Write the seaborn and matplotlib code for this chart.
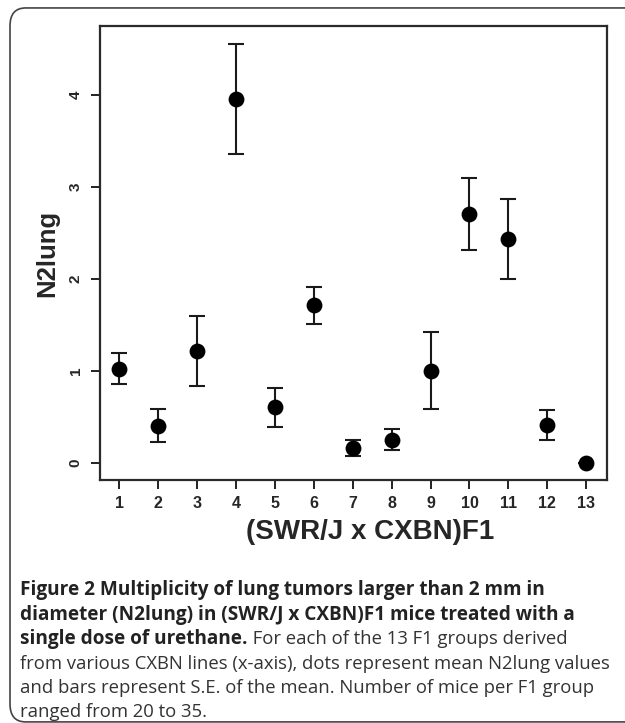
import numpy as np
import pandas as pd
import matplotlib
matplotlib.use("Agg")
import matplotlib.pyplot as plt
import seaborn as sns
from matplotlib.patches import FancyBboxPatch

# ---- data ------------------------------------------------------------------
groups = [1, 2, 3, 4, 5, 6, 7, 8, 9, 10, 11, 12, 13]
mean_n2lung = [1.02, 0.40, 1.21, 3.95, 0.60, 1.71, 0.16, 0.25, 1.00, 2.70, 2.43, 0.41, 0.00]
se_n2lung = [0.17, 0.18, 0.38, 0.60, 0.21, 0.20, 0.09, 0.11, 0.42, 0.39, 0.43, 0.16, 0.00]
y_ticks = [0, 1, 2, 3, 4]

data = pd.DataFrame({"group": groups, "N2lung": mean_n2lung, "se": se_n2lung})

sns.set_style("ticks")
plt.rcParams["font.family"] = ["Liberation Sans", "DejaVu Sans"]

fig = plt.figure(figsize=(6.25, 7.23), dpi=100)
ax = fig.add_axes([0.16, 0.336, 0.811, 0.628])

# error bars (S.E.) then the mean dots
ax.errorbar(data["group"], data["N2lung"], yerr=data["se"], fmt="none",
            ecolor="#1a1a1a", elinewidth=1.5, capsize=5.5, capthick=1.5, zorder=2)
sns.scatterplot(data=data, x="group", y="N2lung", ax=ax, s=130, color="black",
                edgecolor="black", linewidth=0, zorder=3, legend=False)

ax.set_xlim(0.51, 13.53)
ax.set_ylim(-0.19, 4.745)
ax.set_xticks(groups)
ax.set_yticks(y_ticks)
ax.set_xticklabels([str(g) for g in groups], fontweight="bold", fontsize=11.5)
ax.set_yticklabels([str(t) for t in y_ticks], fontweight="bold", fontsize=11,
                   rotation=90, va="center")
ax.tick_params(left=True, bottom=True, direction="out", length=6.5, width=1.4,
               color="#222222")
ax.tick_params(axis="x", pad=5)
ax.tick_params(axis="y", pad=6)

for side in ["left", "right", "top", "bottom"]:
    ax.spines[side].set_visible(True)
    ax.spines[side].set_linewidth(1.6)
    ax.spines[side].set_color("#2a2a2a")

ax.set_xlabel("(SWR/J x CXBN)F1", fontsize=20, fontweight="bold")
ax.xaxis.set_label_coords(0.533, -0.085)
ax.set_ylabel("N2lung", fontsize=18.5, fontweight="bold", labelpad=6.5)

# rounded frame round the whole figure (runs off the right edge)
frame = FancyBboxPatch((0.016, 0.0015), 1.1, 0.9875, transform=fig.transFigure,
                       boxstyle="round,pad=0,rounding_size=0.025",
                       facecolor="none", edgecolor="#444444", linewidth=1.2)
fig.patches.append(frame)

# caption
cap_font = ["Open Sans", "DejaVu Sans"]
bold_size = 13.7
reg_size = 13.35
x0 = 0.032
lines_y = [0.177, 0.1425, 0.1093, 0.0747, 0.0415, 0.0083]
fig.text(x0, lines_y[0], "Figure 2 Multiplicity of lung tumors larger than 2 mm in",
         family=cap_font, fontsize=bold_size, fontweight="bold", color="#222222")
fig.text(x0, lines_y[1], "diameter (N2lung) in (SWR/J x CXBN)F1 mice treated with a",
         family=cap_font, fontsize=bold_size, fontweight="bold", color="#222222")
bold_part = fig.text(x0, lines_y[2], "single dose of urethane.",
                     family=cap_font, fontsize=bold_size, fontweight="bold", color="#222222")
fig.canvas.draw()
bb = bold_part.get_window_extent().transformed(fig.transFigure.inverted())
fig.text(bb.x1, lines_y[2], " For each of the 13 F1 groups derived",
         family=cap_font, fontsize=reg_size, color="#333333")
fig.text(x0, lines_y[3], "from various CXBN lines (x-axis), dots represent mean N2lung values",
         family=cap_font, fontsize=reg_size, color="#333333")
fig.text(x0, lines_y[4], "and bars represent S.E. of the mean. Number of mice per F1 group",
         family=cap_font, fontsize=reg_size, color="#333333")
fig.text(x0, lines_y[5], "ranged from 20 to 35.",
         family=cap_font, fontsize=reg_size, color="#333333")

fig.savefig("out.png", dpi=100)
